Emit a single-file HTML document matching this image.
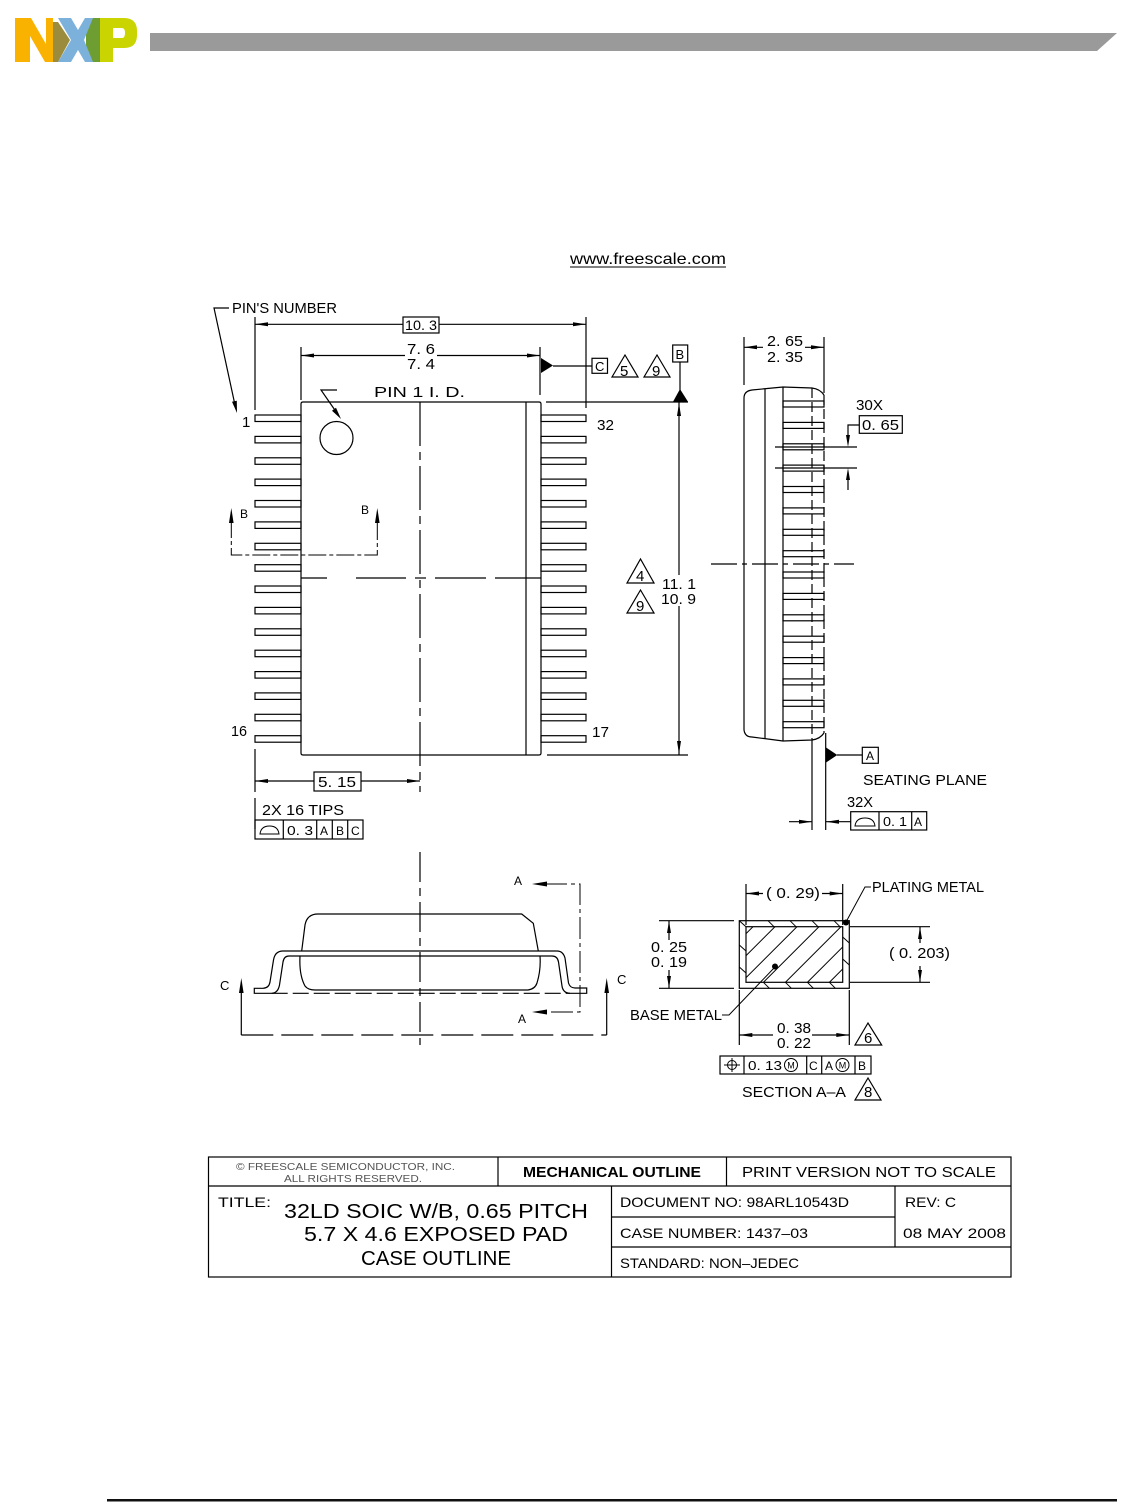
<!DOCTYPE html>
<html><head><meta charset="utf-8"><style>
html,body{margin:0;padding:0;background:#fff;}
svg{display:block;}
text{font-family:"Liberation Sans",Arial,sans-serif;fill:#000;}
</style></head><body>
<svg width="1127" height="1504" viewBox="0 0 1127 1504" xmlns="http://www.w3.org/2000/svg">
<rect x="0" y="0" width="1127" height="1504" fill="#fff"/>
<!-- Logo -->
<polygon points="15,18 31,18 46,44 46,18 53,18 53,62 45,62 30,36 30,62 15,62" fill="#F9B200"/>
<rect x="86" y="18" width="14" height="44" fill="#6E9E32"/>
<polygon points="58,18 71,18 78,30 85,18 93,18 84,40 93,62 85,62 78,50 71,62 58,62 71,40" fill="#7BB1DB"/>
<polygon points="53,22 58,22 70,40 58,62 53,62" fill="#9B8B3C"/>
<path d="M100,18 H124 Q137,18 137,31 V35 Q137,48 124,48 H113 V62 H100 Z M113,28 V38 H122 Q125,38 125,33 Q125,28 122,28 Z" fill="#C9D400" fill-rule="evenodd"/>
<polygon points="150,33 1117,33 1097,51 150,51" fill="#9a9a9a"/>

<!-- link -->
<text x="570" y="264" font-size="16" textLength="156" lengthAdjust="spacingAndGlyphs">www.freescale.com</text>
<line x1="570" y1="267" x2="726" y2="267" stroke="#000" stroke-width="1"/>

<g stroke="#000" stroke-width="1.2" fill="none">
<!-- TOP VIEW body -->
<path d="M303,402 L539,402 Q541,402 541,404 L541,753 Q541,755 539,755 L303,755 Q301,755 301,753 L301,404 Q301,402 303,402 Z"/>
<line x1="526" y1="402" x2="526" y2="755"/>
<line x1="546" y1="402" x2="688" y2="402"/>
<line x1="547" y1="755" x2="688" y2="755"/>
<circle cx="336.5" cy="438" r="16.5"/>
<!-- pins left -->
<rect x="255" y="415.0" width="46" height="6.5"/><rect x="255" y="436.4" width="46" height="6.5"/>
<rect x="255" y="457.8" width="46" height="6.5"/><rect x="255" y="479.1" width="46" height="6.5"/>
<rect x="255" y="500.5" width="46" height="6.5"/><rect x="255" y="521.9" width="46" height="6.5"/>
<rect x="255" y="543.3" width="46" height="6.5"/><rect x="255" y="564.7" width="46" height="6.5"/>
<rect x="255" y="586.0" width="46" height="6.5"/><rect x="255" y="607.4" width="46" height="6.5"/>
<rect x="255" y="628.8" width="46" height="6.5"/><rect x="255" y="650.2" width="46" height="6.5"/>
<rect x="255" y="671.6" width="46" height="6.5"/><rect x="255" y="692.9" width="46" height="6.5"/>
<rect x="255" y="714.3" width="46" height="6.5"/><rect x="255" y="735.7" width="46" height="6.5"/>
<!-- pins right -->
<rect x="541" y="415.0" width="45" height="6.5"/><rect x="541" y="436.4" width="45" height="6.5"/>
<rect x="541" y="457.8" width="45" height="6.5"/><rect x="541" y="479.1" width="45" height="6.5"/>
<rect x="541" y="500.5" width="45" height="6.5"/><rect x="541" y="521.9" width="45" height="6.5"/>
<rect x="541" y="543.3" width="45" height="6.5"/><rect x="541" y="564.7" width="45" height="6.5"/>
<rect x="541" y="586.0" width="45" height="6.5"/><rect x="541" y="607.4" width="45" height="6.5"/>
<rect x="541" y="628.8" width="45" height="6.5"/><rect x="541" y="650.2" width="45" height="6.5"/>
<rect x="541" y="671.6" width="45" height="6.5"/><rect x="541" y="692.9" width="45" height="6.5"/>
<rect x="541" y="714.3" width="45" height="6.5"/><rect x="541" y="735.7" width="45" height="6.5"/>
<!-- center lines -->
<line x1="420" y1="402" x2="420" y2="792" stroke-dasharray="44,6,8,6"/>
<line x1="301" y1="578" x2="327" y2="578"/>
<line x1="356" y1="578" x2="406" y2="578"/>
<line x1="415" y1="578" x2="426" y2="578"/>
<line x1="435" y1="578" x2="486" y2="578"/>
<line x1="495" y1="578" x2="541" y2="578"/>
<!-- B-B section line -->
<polyline points="231.3,520 231.3,555 377.3,555 377.3,520" stroke-dasharray="18,3,4,3" stroke-width="1"/>
<!-- pin 1 leader -->
<polyline points="337,390 321,390 339,416"/>
<!-- PIN'S NUMBER leader -->
<polyline points="229,308 214,308 235,405"/>
<!-- 10.3 dim -->
<line x1="255" y1="317" x2="255" y2="410"/>
<line x1="586" y1="317" x2="586" y2="408"/>
<line x1="255" y1="324.3" x2="403" y2="324.3"/>
<line x1="439" y1="324.3" x2="586" y2="324.3"/>
<rect x="403" y="317" width="36" height="16"/>
<!-- 7.6 dim -->
<line x1="301" y1="347" x2="301" y2="400"/>
<line x1="540" y1="347" x2="540" y2="395"/>
<line x1="301" y1="355.5" x2="405" y2="355.5"/>
<line x1="437" y1="355.5" x2="540" y2="355.5"/>
<!-- datum C -->
<line x1="553" y1="366" x2="592" y2="366"/>
<rect x="592" y="358.3" width="15.5" height="15"/>
<polygon points="612,377 625,355 638,377"/>
<polygon points="644,377 657,355 670,377"/>
<!-- datum B -->
<rect x="672.7" y="345" width="15" height="17"/>
<line x1="680" y1="362" x2="680" y2="390"/>
<!-- 11.1 dim -->
<line x1="679" y1="402" x2="679" y2="575"/>
<line x1="679" y1="606" x2="679" y2="755"/>
<polygon points="627,583 640.5,559 654,583"/>
<polygon points="627,613 640.5,590 654,613"/>
<!-- 5.15 dim -->
<line x1="255" y1="749" x2="255" y2="792"/>
<line x1="255" y1="781" x2="314" y2="781"/>
<line x1="361" y1="781" x2="420" y2="781"/>
<rect x="314" y="772" width="47" height="19"/>
<!-- 2X 16 TIPS -->
<line x1="255" y1="798" x2="255" y2="829"/>
<rect x="255" y="820" width="108" height="19"/>
<line x1="283.3" y1="820" x2="283.3" y2="839"/>
<line x1="316.7" y1="820" x2="316.7" y2="839"/>
<line x1="332.3" y1="820" x2="332.3" y2="839"/>
<line x1="347.7" y1="820" x2="347.7" y2="839"/>
<path d="M260,834 Q261,826 269.5,826 Q278,826 279,834 Z" stroke-width="1"/>

<!-- SIDE VIEW -->
<path d="M744,730 L744,398 Q744,391 752,390 L783,387 L812,388 Q820,389 824,395"/>
<path d="M744,730 Q745,737 752,737 L783,741 L812,740 Q820,739 824,733"/>
<line x1="765" y1="389" x2="765" y2="739"/>
<line x1="783" y1="387" x2="783" y2="741"/>
<line x1="812" y1="388" x2="812" y2="740" stroke-dasharray="10,4"/>
<line x1="824" y1="395" x2="824" y2="733" stroke-dasharray="10,4"/>
<rect x="783" y="401.0" width="41" height="6"/><rect x="783" y="422.4" width="41" height="6"/>
<rect x="783" y="443.8" width="41" height="6"/><rect x="783" y="465.1" width="41" height="6"/>
<rect x="783" y="486.5" width="41" height="6"/><rect x="783" y="507.9" width="41" height="6"/>
<rect x="783" y="529.3" width="41" height="6"/><rect x="783" y="550.7" width="41" height="6"/>
<rect x="783" y="572.0" width="41" height="6"/><rect x="783" y="593.4" width="41" height="6"/>
<rect x="783" y="614.8" width="41" height="6"/><rect x="783" y="636.2" width="41" height="6"/>
<rect x="783" y="657.6" width="41" height="6"/><rect x="783" y="678.9" width="41" height="6"/>
<rect x="783" y="700.3" width="41" height="6"/><rect x="783" y="721.7" width="41" height="6"/>
<line x1="711" y1="564" x2="854" y2="564" stroke-dasharray="26,5,5,5"/>
<!-- 2.65 dim -->
<line x1="744" y1="337" x2="744" y2="385"/>
<line x1="824" y1="337" x2="824" y2="393"/>
<line x1="744" y1="347.3" x2="763" y2="347.3"/>
<line x1="805" y1="347.3" x2="824" y2="347.3"/>
<!-- 0.65 pitch -->
<line x1="775" y1="447" x2="857" y2="447"/>
<line x1="775" y1="468" x2="857" y2="468"/>
<polyline points="859.3,425 848,425 848,440"/>
<line x1="848" y1="475" x2="848" y2="490"/>
<rect x="859.3" y="415.7" width="43" height="17.6"/>
<!-- seating plane -->
<line x1="812" y1="740" x2="812" y2="830"/>
<line x1="825.7" y1="733" x2="825.7" y2="830"/>
<line x1="837" y1="755" x2="862.3" y2="755"/>
<rect x="862.3" y="747.3" width="16" height="16"/>
<line x1="789" y1="821.7" x2="812" y2="821.7"/>
<line x1="826" y1="821.7" x2="850.7" y2="821.7"/>
<rect x="850.7" y="811.7" width="76" height="18.3"/>
<line x1="879" y1="811.7" x2="879" y2="830"/>
<line x1="911.7" y1="811.7" x2="911.7" y2="830"/>
<path d="M855,826 Q856,818 865,818 Q874,818 875,826 Z" stroke-width="1"/>

<!-- FRONT VIEW (bottom left) -->
<line x1="420" y1="852" x2="420" y2="1045" stroke-dasharray="30,6,8,6"/>
<path d="M301.7,951 L305,925 Q307,914 318,914 L521.7,914 L533.3,923.3 L538.3,951"/>
<path d="M254.3,993.3 L254.3,988.3 L263,988.3 Q269,988 270,982 L273.5,960 Q275,951 283,951 L557,951 Q563,951 565,958 L568.5,983 Q570,988 575,988 L586.7,988 L586.7,993.3 L570,993.3 Q563,993 562,986 L558.5,962 Q557.5,956 552,956 L289,956 Q284,956 283,962 L279.5,985 Q278,993 271.7,993.3 Z"/>
<path d="M300,956 Q299,975 305,986 Q308,990 315,990 L528,990 Q535,989 537,983 Q541,970 540,956"/>
<line x1="271.7" y1="993.3" x2="570" y2="993.3" stroke-dasharray="16,5"/>
<!-- A-A -->
<polyline points="545,884 580,884 580,1012 545,1012" stroke-dasharray="22,4,4,4" stroke-width="1"/>
<!-- C-C -->
<line x1="241.3" y1="990" x2="241.3" y2="1035"/>
<line x1="606.7" y1="990" x2="606.7" y2="1035"/>
<line x1="241.3" y1="1035" x2="606.7" y2="1035" stroke-dasharray="32,8"/>

<!-- SECTION A-A -->
<rect x="739.3" y="920.7" width="110" height="67.6"/>
<rect x="746" y="926.7" width="96.7" height="55.6"/>
<line x1="659" y1="920.7" x2="734" y2="920.7"/>
<line x1="659" y1="988.3" x2="734" y2="988.3"/>
<line x1="669" y1="921" x2="669" y2="940"/>
<line x1="669" y1="970" x2="669" y2="988"/>
<line x1="746" y1="884" x2="746" y2="925"/>
<line x1="842.7" y1="884" x2="842.7" y2="925"/>
<line x1="746" y1="893.5" x2="763" y2="893.5"/>
<line x1="822" y1="893.5" x2="842.7" y2="893.5"/>
<line x1="850" y1="926.7" x2="930" y2="926.7"/>
<line x1="850" y1="982.3" x2="930" y2="982.3"/>
<line x1="920" y1="927" x2="920" y2="943"/>
<line x1="920" y1="966" x2="920" y2="982"/>
<line x1="739.3" y1="990" x2="739.3" y2="1045"/>
<line x1="849.3" y1="990" x2="849.3" y2="1045"/>
<line x1="739.3" y1="1035" x2="773" y2="1035"/>
<line x1="812" y1="1035" x2="849.3" y2="1035"/>
<polygon points="855,1045 868,1023 881.7,1045"/>
<polyline points="846,922 865,887 871,887" stroke-width="1"/>
<polyline points="722,1015 729,1015 775,967" stroke-width="1"/>
<rect x="720" y="1056" width="151" height="18"/>
<line x1="744" y1="1056" x2="744" y2="1074"/>
<line x1="806.7" y1="1056" x2="806.7" y2="1074"/>
<line x1="821.7" y1="1056" x2="821.7" y2="1074"/>
<line x1="855" y1="1056" x2="855" y2="1074"/>
<circle cx="732" cy="1065" r="4.5" stroke-width="1"/>
<line x1="724" y1="1065" x2="740" y2="1065" stroke-width="1"/>
<line x1="732" y1="1058" x2="732" y2="1072" stroke-width="1"/>
<circle cx="791" cy="1065" r="6.5" stroke-width="1"/>
<circle cx="842.5" cy="1065" r="6.5" stroke-width="1"/>
<polygon points="855,1100 868,1078 881,1100"/>
</g>

<!-- hatching -->
<defs><clipPath id="inner"><rect x="746" y="926.7" width="96.7" height="55.6"/></clipPath></defs>
<g stroke="#000" stroke-width="1" clip-path="url(#inner)">
<line x1="779.7" y1="900" x2="679.7" y2="1000"/>
<line x1="801.7" y1="900" x2="701.7" y2="1000"/>
<line x1="823.7" y1="900" x2="723.7" y2="1000"/>
<line x1="845.7" y1="900" x2="745.7" y2="1000"/>
<line x1="867.7" y1="900" x2="767.7" y2="1000"/>
<line x1="889.7" y1="900" x2="789.7" y2="1000"/>
<line x1="911.7" y1="900" x2="811.7" y2="1000"/>
</g>
<g stroke="#000" stroke-width="1" fill="none">
<polyline points="739.3,920.7 746,926.7"/>
<polyline points="768,920.7 774,926.7"/>
<polyline points="790,920.7 796,926.7"/>
<polyline points="812,920.7 818,926.7"/>
<polyline points="834,920.7 840,926.7"/>
<polyline points="763.4,982.3 769.4,988.3"/>
<polyline points="785.4,982.3 791.4,988.3"/>
<polyline points="807.4,982.3 813.4,988.3"/>
<polyline points="829.4,982.3 835.4,988.3"/>
<polyline points="739.3,945 746,951"/>
<polyline points="739.3,967 746,973"/>
<polyline points="842.7,937 849.3,943"/>
<polyline points="842.7,959 849.3,965"/>
</g>
<circle cx="775" cy="966.5" r="3" fill="#000"/>
<circle cx="846" cy="922.5" r="3" fill="#000"/>

<!-- arrowheads / filled triangles -->
<g fill="#000" stroke="none">
<polygon points="341,419 332,410.8 336,407.8"/>
<polygon points="237,413 236.8,400.8 232,401.8"/>
<polygon points="255,324.3 268,322.3 268,326.3"/>
<polygon points="586,324.3 573,322.3 573,326.3"/>
<polygon points="301,355.5 314,353.5 314,357.5"/>
<polygon points="540,355.5 527,353.5 527,357.5"/>
<polygon points="541,358 541,373 553,365.5"/>
<polygon points="680,389 673,401.7 688,401.7"/>
<polygon points="679,403 677,416 681,416"/>
<polygon points="679,754 677,741 681,741"/>
<polygon points="255,781 268,779 268,783"/>
<polygon points="420,781 407,779 407,783"/>
<polygon points="231.3,508 229,523 233.6,523"/>
<polygon points="377.3,508 375,523 379.6,523"/>
<polygon points="744,347.3 757,345.3 757,349.3"/>
<polygon points="824,347.3 811,345.3 811,349.3"/>
<polygon points="848,447 846,435 850,435"/>
<polygon points="848,468 846,480 850,480"/>
<polygon points="825.7,747.3 825.7,762.7 837.3,755"/>
<polygon points="812,821.7 799,819.7 799,823.7"/>
<polygon points="826,821.7 839,819.7 839,823.7"/>
<polygon points="532,884 547,881.5 547,886.5"/>
<polygon points="532,1012 547,1009.5 547,1014.5"/>
<polygon points="241.3,978 239,993 243.6,993"/>
<polygon points="606.7,978 604.4,993 609,993"/>
<polygon points="669,921 667,933 671,933"/>
<polygon points="669,988 667,976 671,976"/>
<polygon points="746,893.5 759,891.5 759,895.5"/>
<polygon points="842.7,893.5 829.7,891.5 829.7,895.5"/>
<polygon points="920,927 918,939 922,939"/>
<polygon points="920,982 918,970 922,970"/>
<polygon points="739.3,1035 752.3,1033 752.3,1037"/>
<polygon points="849.3,1035 836.3,1033 836.3,1037"/>
</g>

<!-- TEXT -->
<g font-size="15">
<text x="232" y="313" textLength="105" lengthAdjust="spacingAndGlyphs">PIN'S NUMBER</text>
<text x="405" y="330" font-size="14" textLength="32" lengthAdjust="spacingAndGlyphs">10. 3</text>
<text x="407" y="354" textLength="28" lengthAdjust="spacingAndGlyphs">7. 6</text>
<text x="407" y="369" textLength="28" lengthAdjust="spacingAndGlyphs">7. 4</text>
<text x="374" y="397" textLength="91" lengthAdjust="spacingAndGlyphs">PIN 1 I. D.</text>
<text x="242" y="427">1</text>
<text x="597" y="430" textLength="17" lengthAdjust="spacingAndGlyphs">32</text>
<text x="231" y="736" textLength="16" lengthAdjust="spacingAndGlyphs">16</text>
<text x="592" y="737" textLength="17" lengthAdjust="spacingAndGlyphs">17</text>
<text x="240" y="518" font-size="12">B</text>
<text x="361" y="514" font-size="12">B</text>
<text x="595" y="371" font-size="13">C</text>
<text x="620" y="376">5</text>
<text x="652" y="376">9</text>
<text x="675.5" y="359" font-size="13">B</text>
<text x="662" y="589" textLength="34" lengthAdjust="spacingAndGlyphs">11. 1</text>
<text x="661" y="604" textLength="35" lengthAdjust="spacingAndGlyphs">10. 9</text>
<text x="636" y="581">4</text>
<text x="636" y="611">9</text>
<text x="318" y="787" textLength="38" lengthAdjust="spacingAndGlyphs">5. 15</text>
<text x="262" y="815" textLength="82" lengthAdjust="spacingAndGlyphs">2X 16 TIPS</text>
<text x="287" y="835" font-size="13" textLength="26" lengthAdjust="spacingAndGlyphs">0. 3</text>
<text x="320" y="835" font-size="12">A</text>
<text x="336" y="835" font-size="12">B</text>
<text x="351" y="835" font-size="12">C</text>
<text x="767" y="346" textLength="36" lengthAdjust="spacingAndGlyphs">2. 65</text>
<text x="767" y="362" textLength="36" lengthAdjust="spacingAndGlyphs">2. 35</text>
<text x="856" y="410" textLength="27" lengthAdjust="spacingAndGlyphs">30X</text>
<text x="862" y="430" textLength="37" lengthAdjust="spacingAndGlyphs">0. 65</text>
<text x="866" y="760" font-size="12">A</text>
<text x="863" y="785" textLength="124" lengthAdjust="spacingAndGlyphs">SEATING PLANE</text>
<text x="847" y="807" textLength="26" lengthAdjust="spacingAndGlyphs">32X</text>
<text x="883" y="826" font-size="13" textLength="24" lengthAdjust="spacingAndGlyphs">0. 1</text>
<text x="914" y="826" font-size="12">A</text>
<text x="514" y="885" font-size="12">A</text>
<text x="518" y="1023" font-size="12">A</text>
<text x="220" y="990" font-size="13">C</text>
<text x="617" y="984" font-size="13">C</text>
<text x="872" y="892" textLength="112" lengthAdjust="spacingAndGlyphs">PLATING METAL</text>
<text x="766" y="898" textLength="54" lengthAdjust="spacingAndGlyphs">( 0. 29)</text>
<text x="651" y="952" textLength="36" lengthAdjust="spacingAndGlyphs">0. 25</text>
<text x="651" y="967" textLength="36" lengthAdjust="spacingAndGlyphs">0. 19</text>
<text x="889" y="958" textLength="61" lengthAdjust="spacingAndGlyphs">( 0. 203)</text>
<text x="630" y="1020" textLength="92" lengthAdjust="spacingAndGlyphs">BASE METAL</text>
<text x="777" y="1033" textLength="34" lengthAdjust="spacingAndGlyphs">0. 38</text>
<text x="777" y="1048" textLength="34" lengthAdjust="spacingAndGlyphs">0. 22</text>
<text x="864" y="1043">6</text>
<text x="748" y="1070" font-size="13" textLength="34" lengthAdjust="spacingAndGlyphs">0. 13</text>
<text x="791" y="1068.5" font-size="9" text-anchor="middle">M</text>
<text x="809" y="1070" font-size="12">C</text>
<text x="825" y="1070" font-size="12">A</text>
<text x="842.5" y="1068.5" font-size="9" text-anchor="middle">M</text>
<text x="858" y="1070" font-size="12">B</text>
<text x="742" y="1097" textLength="104" lengthAdjust="spacingAndGlyphs">SECTION A–A</text>
<text x="864" y="1097">8</text>
</g>

<!-- TITLE BLOCK -->
<g stroke="#000" stroke-width="1.2" fill="none">
<rect x="208.5" y="1157" width="802.5" height="120"/>
<line x1="208.5" y1="1186" x2="1011" y2="1186"/>
<line x1="498" y1="1157" x2="498" y2="1186"/>
<line x1="726.5" y1="1157" x2="726.5" y2="1186"/>
<line x1="611.5" y1="1186" x2="611.5" y2="1277"/>
<line x1="611.5" y1="1217" x2="895" y2="1217"/>
<line x1="895" y1="1186" x2="895" y2="1247"/>
<line x1="611.5" y1="1247" x2="1011" y2="1247"/>
</g>
<text x="236" y="1170" font-size="10" fill="#555" style="fill:#555" textLength="219" lengthAdjust="spacingAndGlyphs">© FREESCALE SEMICONDUCTOR,  INC.</text>
<text x="284" y="1182" font-size="10" style="fill:#555" textLength="138" lengthAdjust="spacingAndGlyphs">ALL RIGHTS RESERVED.</text>
<text x="523" y="1177" font-size="15" font-weight="bold" textLength="178" lengthAdjust="spacingAndGlyphs">MECHANICAL OUTLINE</text>
<text x="742" y="1177" font-size="15" textLength="254" lengthAdjust="spacingAndGlyphs">PRINT VERSION NOT TO SCALE</text>
<text x="218" y="1207" font-size="14" textLength="53" lengthAdjust="spacingAndGlyphs">TITLE:</text>
<text x="284" y="1218" font-size="20" textLength="304" lengthAdjust="spacingAndGlyphs">32LD SOIC W/B, 0.65 PITCH</text>
<text x="304" y="1241" font-size="20" textLength="264" lengthAdjust="spacingAndGlyphs">5.7 X 4.6 EXPOSED PAD</text>
<text x="361" y="1265" font-size="20" textLength="150" lengthAdjust="spacingAndGlyphs">CASE OUTLINE</text>
<text x="620" y="1207" font-size="14" textLength="229" lengthAdjust="spacingAndGlyphs">DOCUMENT NO: 98ARL10543D</text>
<text x="905" y="1207" font-size="14" textLength="51" lengthAdjust="spacingAndGlyphs">REV: C</text>
<text x="620" y="1238" font-size="14" textLength="188" lengthAdjust="spacingAndGlyphs">CASE NUMBER: 1437–03</text>
<text x="903" y="1238" font-size="14" textLength="103" lengthAdjust="spacingAndGlyphs">08 MAY 2008</text>
<text x="620" y="1268" font-size="14" textLength="179" lengthAdjust="spacingAndGlyphs">STANDARD: NON–JEDEC</text>

<!-- bottom rule -->
<rect x="107" y="1499" width="1010" height="2.5" fill="#111"/>
</svg>
</body></html>
